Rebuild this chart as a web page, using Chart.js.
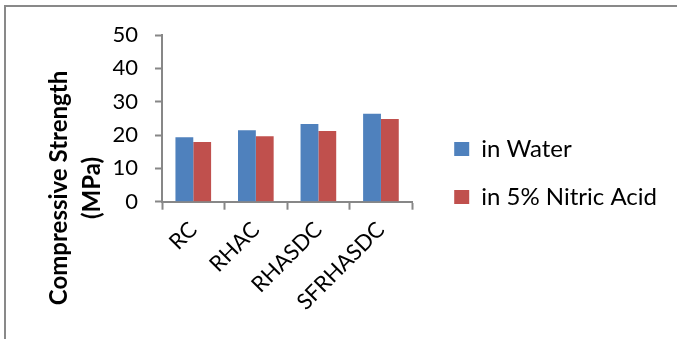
<!DOCTYPE html>
<html>
<head>
<meta charset="utf-8">
<script src="https://cdn.jsdelivr.net/npm/chart.js@4"></script>
<style>
  html, body { margin: 0; padding: 0; background: #fff; }
  #wrap { position: relative; width: 677px; height: 339px; overflow: hidden; }
  #frame {
    position: absolute; left: 4px; top: 5px; right: -10px; bottom: -10px;
    border-top: 2px solid #898989; border-left: 2px solid #898989;
    pointer-events: none;
  }
  canvas { position: absolute; left: 0; top: 0; }
</style>
</head>
<body>
<div id="wrap">
  <canvas id="chart" width="677" height="339"></canvas>
  <div id="frame"></div>
</div>
<script>
// Compressive strength of each concrete mix, cured in water vs. 5% nitric acid
const categories = ['RC', 'RHAC', 'RHASDC', 'SFRHASDC'];
const inWater = [19.3, 21.4, 23.3, 26.4];
const inNitricAcid = [17.9, 19.6, 21.2, 24.8];
const seriesNames = ['in Water', 'in 5% Nitric Acid'];
const yTicks = [0, 10, 20, 30, 40, 50];
const yTitleLines = ['Compressive Strength', '(MPa)'];

const AXIS_GREY = '#878787';

// Rotated two-line title for the value axis
const yTitlePlugin = {
  id: 'yTitle',
  afterDraw(chart) {
    const { ctx } = chart;
    ctx.save();
    ctx.font = 'bold 24px Lato';
    ctx.fillStyle = '#000';
    ctx.textAlign = 'center';
    ctx.textBaseline = 'middle';
    yTitleLines.forEach((line, i) => {
      ctx.save();
      ctx.translate(59 + i * 33, 188);
      ctx.rotate(-Math.PI / 2);
      ctx.fillText(line, 0, 0);
      ctx.restore();
    });
    ctx.restore();
  }
};

Chart.defaults.font.family = 'Lato';
Chart.defaults.color = '#000';

new Chart(document.getElementById('chart'), {
  type: 'bar',
  data: {
    labels: categories,
    datasets: [
      { label: seriesNames[0], data: inWater, backgroundColor: '#4F81BD' },
      { label: seriesNames[1], data: inNitricAcid, backgroundColor: '#C0504D' }
    ]
  },
  options: {
    responsive: false,
    animation: false,
    events: [],
    categoryPercentage: 0.57,
    barPercentage: 1.0,
    layout: { padding: { top: 35, right: 10, bottom: 28, left: 0 } },
    plugins: {
      legend: {
        position: 'right',
        maxWidth: 320,
        labels: {
          boxWidth: 15,
          boxHeight: 14,
          padding: 24,
          font: { size: 24 },
          color: '#000'
        }
      },
      tooltip: { enabled: false }
    },
    scales: {
      x: {
        grid: {
          drawOnChartArea: false,
          drawTicks: true,
          tickLength: 8,
          tickColor: AXIS_GREY,
          tickWidth: 2,
          offset: true
        },
        border: { display: true, color: AXIS_GREY, width: 2 },
        ticks: {
          font: { size: 22 },
          color: '#000',
          minRotation: 45,
          maxRotation: 45,
          padding: 7
        },
        afterFit(scale) { scale.height = 339 - 28 - 201.7; }
      },
      y: {
        min: 0,
        max: 50,
        afterBuildTicks(scale) { scale.ticks = yTicks.map(v => ({ value: v })); },
        grid: {
          drawOnChartArea: false,
          drawTicks: true,
          tickLength: 7,
          tickColor: AXIS_GREY,
          tickWidth: 2
        },
        border: { display: true, color: AXIS_GREY, width: 2 },
        ticks: { font: { size: 22 }, color: '#000', padding: 17 },
        afterFit(scale) { scale.width = 162; }
      },
      // empty right-hand axis that leaves a gap before the legend
      gap: {
        type: 'linear',
        position: 'right',
        display: true,
        grid: { display: false },
        border: { display: false },
        ticks: { display: false },
        afterFit(scale) { scale.width = 18; }
      }
    }
  },
  plugins: [yTitlePlugin]
});
</script>
</body>
</html>
